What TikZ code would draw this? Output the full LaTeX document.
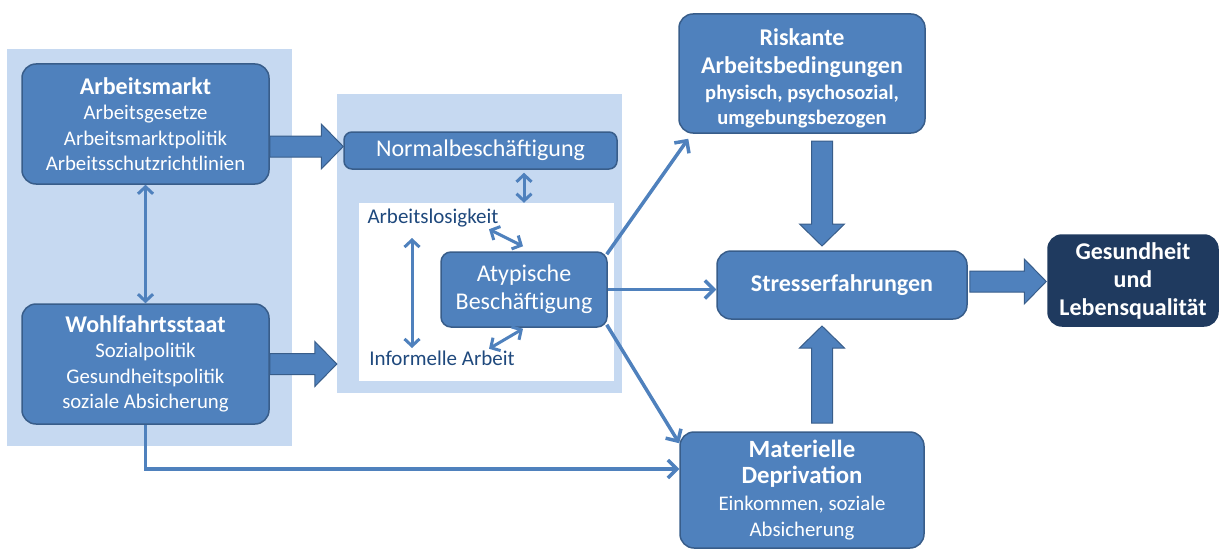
\documentclass[tikz,border=0pt]{standalone}
\usepackage{fontspec}
\setmainfont{Carlito}
\usetikzlibrary{arrows.meta,calc,positioning}

\definecolor{boxblue}{HTML}{4F81BD}
\definecolor{boxedge}{HTML}{385D8A}
\definecolor{panelblue}{HTML}{C6D9F1}
\definecolor{darknavy}{HTML}{1F3A5F}
\definecolor{textblue}{HTML}{1F497D}

% fonts for titles and sub lines
\newcommand{\ttl}[1]{{\fontsize{24}{28}\selectfont\bfseries #1}}
\newcommand{\sub}[1]{{\fontsize{20.8}{25.4}\selectfont #1}}

% fat arrow drawn as a polygon between two points
\tikzset{
  blockarrow/.style={draw=boxedge, fill=boxblue, line width=1pt, line join=miter,
    to path={
      ($(\tikztostart)!10.5pt!90:(\tikztotarget)$) --
      ($($(\tikztotarget)!22pt!(\tikztostart)$)!10.5pt!-90:(\tikztostart)$) --
      ($($(\tikztotarget)!22pt!(\tikztostart)$)!22.5pt!-90:(\tikztostart)$) --
      (\tikztotarget) --
      ($($(\tikztotarget)!22pt!(\tikztostart)$)!22.5pt!90:(\tikztostart)$) --
      ($($(\tikztotarget)!22pt!(\tikztostart)$)!10.5pt!90:(\tikztostart)$) --
      ($(\tikztostart)!10.5pt!-90:(\tikztotarget)$) -- cycle}}
}

\begin{document}
\begin{tikzpicture}[x=1pt, y=-1pt,
    panel/.style={fill=panelblue, inner sep=0pt},
    box/.style={draw=boxedge, fill=boxblue, line width=1.5pt, rounded corners=14pt,
      text=white, align=center, inner sep=0pt, font=\fontsize{20.8}{25.4}\selectfont},
    plain/.style={text=textblue, inner sep=1pt, font=\fontsize{21}{25}\selectfont},
    conn/.style={-{Straight Barb[length=9pt,width=18pt]}, line width=3.5pt, draw=boxblue},
    dbl/.style={{Straight Barb[length=7pt,width=15pt]}-{Straight Barb[length=7pt,width=15pt]}, line width=3pt, draw=boxblue}
  ]
  \useasboundingbox (0,0) rectangle (1220,551);

  % background panels
  \node[panel, minimum width=285pt, minimum height=397pt] (left) at (149.5,247.5) {};
  \node[panel, minimum width=285pt, minimum height=299pt] (mid) at (479.5,243.5) {};
  \node[fill=white, inner sep=0pt, minimum width=255pt, minimum height=178pt] (inner) at (486.5,292) {};

  % boxes
  \node[box, minimum width=247pt, minimum height=120pt] (am) at (145.5,124)
    {\ttl{Arbeitsmarkt}\\Arbeitsgesetze\\Arbeitsmarktpolitik\\Arbeitsschutzrichtlinien};
  \node[box, minimum width=247pt, minimum height=120pt] (wf) at (145.5,364)
    {\ttl{Wohlfahrtsstaat}\\Sozialpolitik\\Gesundheitspolitik\\soziale Absicherung};
  \node[box, rounded corners=8pt, minimum width=273pt, minimum height=37pt,
    font=\fontsize{24}{28}\selectfont] (normal) at (480.5,150.5) {Normalbeschäftigung};
  \node[box, rounded corners=10pt, minimum width=166pt, minimum height=75pt,
    font=\fontsize{24}{28}\selectfont] (atyp) at (524,289.5) {Atypische\\Beschäftigung};
  \node[plain] (alos) at (433,218) {Arbeitslosigkeit};
  \node[plain] (inf) at (442,358) {Informelle Arbeit};

  \node[box, minimum width=246pt, minimum height=119pt] (risk) at (802,73.5)
    {\rule{0pt}{27pt}\ttl{Riskante}\\[2pt]\ttl{Arbeitsbedingungen}\\[1pt]
     {\fontsize{20.5}{24}\selectfont\bfseries physisch, psychosozial,}\\[0pt]
     {\fontsize{20.5}{24}\selectfont\bfseries umgebungsbezogen}};
  \node[box, minimum width=250pt, minimum height=68pt] (stress) at (842,285)
    {\ttl{Stresserfahrungen}};
  \node[box, minimum width=244pt, minimum height=116pt] (mat) at (802,490)
    {{\fontsize{24.8}{28}\selectfont\bfseries Materielle}\\[1pt]
     {\fontsize{24.8}{28}\selectfont\bfseries Deprivation}\\[1pt]
     \sub{Einkommen, soziale}\\[1pt]\sub{Absicherung}};
  \node[box, fill=darknavy, draw=darknavy, minimum width=170pt, minimum height=91pt,
    font=\fontsize{24}{28}\selectfont\bfseries] (gh) at (1133,280.5)
    {Gesundheit\\und\\Lebensqualität};

  % fat arrows
  \coordinate (a1) at ([yshift=4pt]normal.west -| am.east);
  \coordinate (a2) at (mid.west |- wf.east);
  \coordinate (a3) at (822,141);
  \coordinate (a4) at (822,246);
  \coordinate (a5) at (822,423);
  \coordinate (a6) at (822,326);
  \coordinate (a7) at ([xshift=2pt,yshift=-1pt]gh.west -| stress.east);
  \draw[blockarrow] (a1) to ([yshift=4pt]normal.west);
  \draw[blockarrow] (wf.east) to (a2);
  \draw[blockarrow] (a3) to (a4);
  \draw[blockarrow] (a5) to (a6);
  \draw[blockarrow] (a7) to ([xshift=-1pt,yshift=-1pt]gh.west);

  % thin arrows
  \draw[dbl] (am.south) -- (wf.north);
  \draw[dbl, shorten <=3pt] (normal.south -| atyp.north) -- (inner.north -| atyp.north);
  \draw[dbl] ([xshift=-21pt,yshift=-20pt]alos.center) -- ([xshift=-30pt,yshift=10pt]inf.center);
  \draw[dbl] ([xshift=-35pt,yshift=22pt]atyp.north) -- ([xshift=-1pt,yshift=5pt]atyp.north);
  \draw[dbl] ([xshift=-35pt,yshift=-21pt]atyp.south) -- ([xshift=-1pt,yshift=-1pt]atyp.south);
  \draw[conn] ([xshift=-1pt,yshift=-3pt]atyp.north east) -- ([xshift=10pt,yshift=-5pt]risk.south west);
  \draw[conn] (atyp.east) -- (atyp.east -| stress.west);
  \draw[conn] ([xshift=-1pt,yshift=3pt]atyp.south east) -- ([yshift=-12pt]mat.north west);
  \draw[conn] (wf.south) |- ([yshift=21pt]mat.west);
\end{tikzpicture}
\end{document}
